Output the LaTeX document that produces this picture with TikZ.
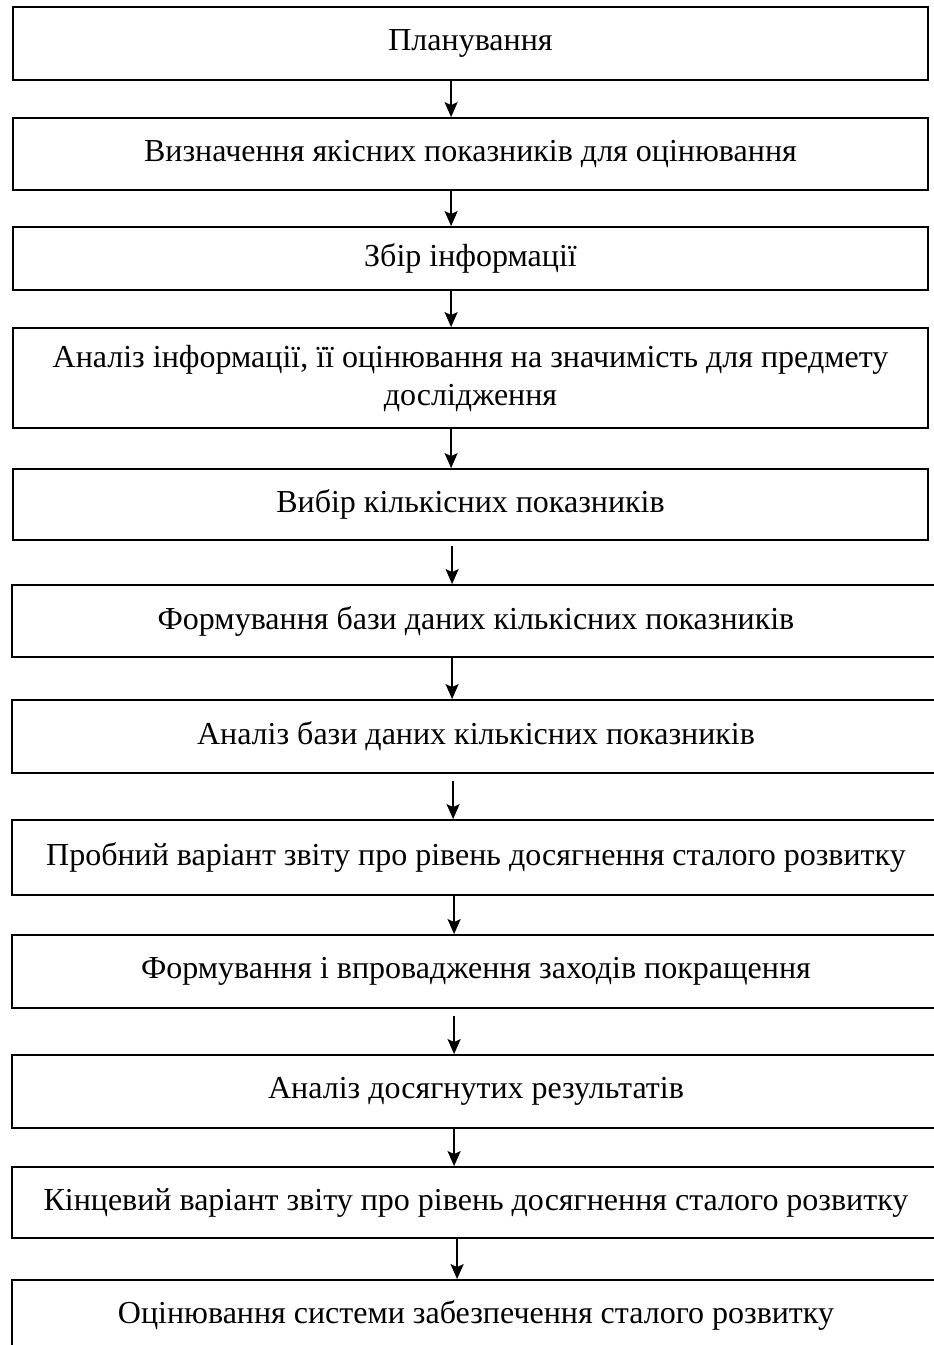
\documentclass[tikz,border=0pt]{standalone}
\usepackage{fontspec}
\setmainfont{Liberation Serif}
\usetikzlibrary{arrows.meta,calc}

\begin{document}
\begin{tikzpicture}[x=1pt,y=-1pt,
  stage/.style={draw=black, line width=1.8pt, inner sep=0pt, align=center,
    font=\fontsize{32}{38}\selectfont},
  narrow/.style={stage, minimum width=915pt},
  wide/.style={stage, minimum width=928pt},
  flow/.style={-{Stealth[length=15pt,width=13pt,inset=3pt]}, line width=1.8pt}]

\useasboundingbox (0,0) rectangle (934,1345);

% process stages, top to bottom
\node[narrow, minimum height=73pt] (s1)  at (470.5,43.5)  {Планування};
\node[narrow, minimum height=72pt] (s2)  at (470.5,154)   {Визначення якісних показників для оцінювання};
\node[narrow, minimum height=63pt] (s3)  at (470.5,258.5) {Збір інформації};
\node[narrow, minimum height=100pt] (s4) at (470.5,378)   {Аналіз інформації, її оцінювання на значимість для предмету\\дослідження};
\node[narrow, minimum height=71pt] (s5)  at (470.5,504.5) {Вибір кількісних показників};
\node[wide, minimum height=72pt] (s6)  at (476,621)    {Формування бази даних кількісних показників};
\node[wide, minimum height=73pt] (s7)  at (476,736.5)  {Аналіз бази даних кількісних показників};
\node[wide, minimum height=75pt] (s8)  at (476,857.5)  {Пробний варіант звіту про рівень досягнення сталого розвитку};
\node[wide, minimum height=73pt] (s9)  at (476,971.5)  {Формування і впровадження заходів покращення};
\node[wide, minimum height=73pt] (s10) at (476,1091.5) {Аналіз досягнутих результатів};
\node[wide, minimum height=71pt] (s11) at (476,1202.5) {Кінцевий варіант звіту про рівень досягнення сталого розвитку};
\node[wide, minimum height=70pt] (s12) at (476,1315)   {Оцінювання системи забезпечення сталого розвитку};

% connectors between consecutive stages
\draw[flow] ($(s1.south west)+(439,0)$) -- ($(s2.north west)+(439,0)$);
\draw[flow] ($(s2.south west)+(439,0)$) -- ($(s3.north west)+(439,0)$);
\draw[flow] ($(s3.south west)+(439,0)$) -- ($(s4.north west)+(439,0)$);
\draw[flow] ($(s4.south west)+(439,0)$) -- ($(s5.north west)+(439,0)$);
\draw[flow, shorten <=5pt] ($(s5.south west)+(440,0)$) -- ($(s6.north west)+(441,0)$);
\draw[flow] ($(s6.south west)+(441,0)$) -- ($(s7.north west)+(441,0)$);
\draw[flow, shorten <=7pt] ($(s7.south west)+(442,0)$) -- ($(s8.north west)+(442,0)$);
\draw[flow] ($(s8.south west)+(443,0)$) -- ($(s9.north west)+(443,0)$);
\draw[flow, shorten <=7pt] ($(s9.south west)+(443,0)$) -- ($(s10.north west)+(443,0)$);
\draw[flow] ($(s10.south west)+(443,0)$) -- ($(s11.north west)+(443,0)$);
\draw[flow] ($(s11.south west)+(446,0)$) -- ($(s12.north west)+(446,0)$);
\end{tikzpicture}
\end{document}
